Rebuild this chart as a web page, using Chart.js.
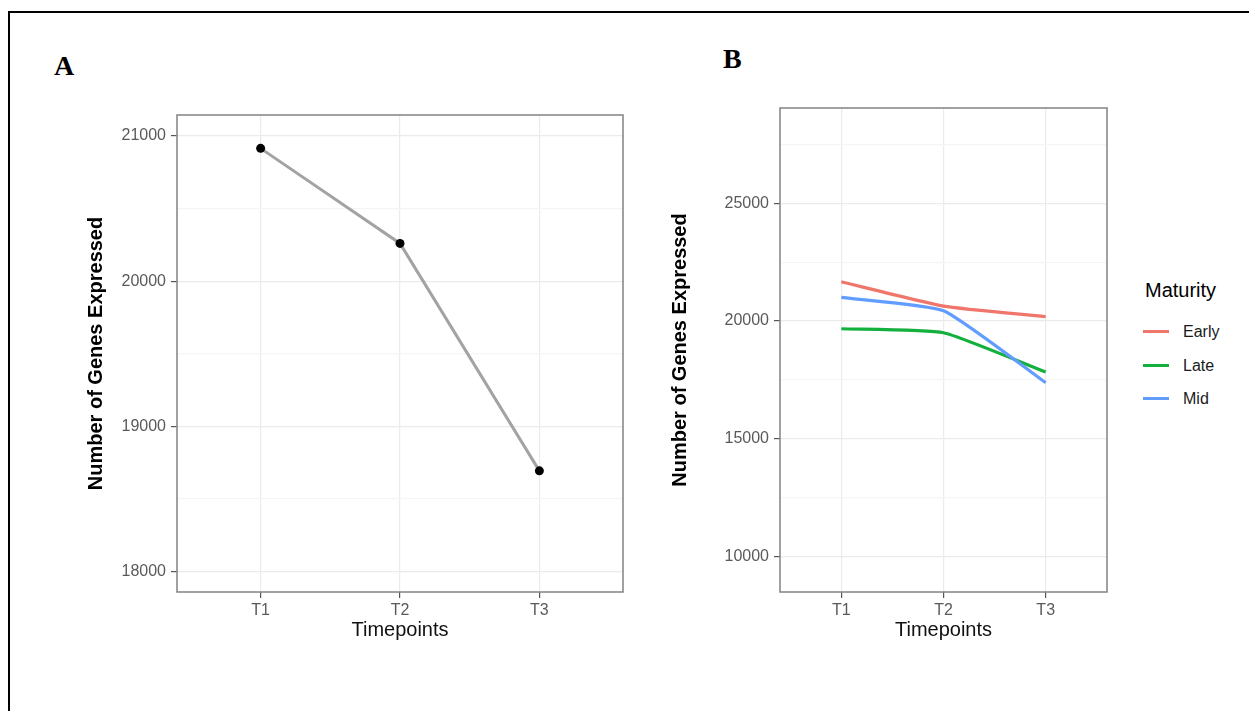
<!DOCTYPE html>
<html>
<head>
<meta charset="utf-8">
<script src="https://cdn.jsdelivr.net/npm/chart.js@4.4.1/dist/chart.umd.min.js"></script>
<style>
  html, body { margin: 0; padding: 0; background: #fff; }
  body { width: 1249px; height: 711px; position: relative; overflow: hidden; font-family: 'Liberation Sans', Arial, sans-serif; }
  .frame { position: absolute; left: 8px; top: 11px; width: 1400px; height: 900px; border-top: 2px solid #000; border-left: 2px solid #000; }
  .panel-tag { position: absolute; font-family: 'Liberation Serif', 'Times New Roman', serif; font-weight: bold; font-size: 28px; line-height: 28px; color: #000; }
  .box { position: absolute; }
  .legend-title { position: absolute; left: 1145px; top: 278px; font-size: 20px; line-height: 24px; color: #000; }
  .legend-row { position: absolute; left: 1143px; height: 20px; }
  .legend-row .swatch { position: absolute; left: 0; top: 8px; width: 26px; height: 3px; }
  .legend-row .txt { position: absolute; left: 40px; top: 0; font-size: 16px; line-height: 20px; color: #1a1a1a; white-space: nowrap; }
</style>
</head>
<body>
<div class="frame"></div>
<div class="panel-tag" style="left:54px; top:52px;">A</div>
<div class="panel-tag" style="left:723px; top:45px;">B</div>

<div class="box" style="left:30px; top:95px; width:610px; height:575px;">
  <canvas id="chartA" width="610" height="575"></canvas>
</div>
<div class="box" style="left:650px; top:90px; width:470px; height:580px;">
  <canvas id="chartB" width="470" height="580"></canvas>
</div>
<div id="legend"></div>

<script>
// timepoints and gene counts
const timepoints = ['T1', 'T2', 'T3'];
const genesTotal = [20915, 20260, 18692];

const maturityGroups = ['Early', 'Late', 'Mid'];
const earlyGenes = [21669, 20637, 20183];
const lateGenes = [19673, 19503, 17834];
const midGenes = [21006, 20437, 17380];
const groupColors = ['#F0766C', '#13B03E', '#619CFF'];

// y axis ticks (major labelled, minor just grid)
const majorTicksA = [18000, 19000, 20000, 21000];
const minorTicksA = [18500, 19500, 20500];
const majorTicksB = [10000, 15000, 20000, 25000];
const minorTicksB = [12500, 17500, 22500, 27500];

const sans = "'Liberation Sans', Arial, sans-serif";

const panelBorder = {
  id: 'panelBorder',
  afterDraw(chart) {
    const { ctx, chartArea: a } = chart;
    ctx.save();
    ctx.strokeStyle = '#8a8a8a';
    ctx.lineWidth = 1.6;
    ctx.strokeRect(a.left, a.top, a.right - a.left, a.bottom - a.top);
    ctx.restore();
  }
};

function toPoints(values) {
  return values.map((v, i) => ({ x: i, y: v }));
}

function makeScales(opts) {
  const minor = new Set(opts.minor);
  return {
    x: {
      type: 'linear',
      min: -0.6,
      max: 2.6,
      afterBuildTicks: s => { s.ticks = timepoints.map((t, i) => ({ value: i })); },
      afterFit: s => { s.height = opts.xHeight; },
      ticks: {
        callback: v => timepoints[v],
        font: { family: sans, size: 16 },
        color: '#5a5a5a',
        padding: 3,
        maxRotation: 0
      },
      grid: { color: '#ebebeb', lineWidth: 1.2, tickLength: 6, tickColor: '#555', tickWidth: 1.2 },
      border: { display: false },
      title: {
        display: true,
        text: 'Timepoints',
        font: { family: sans, size: 20 },
        color: '#111',
        padding: { top: 0, bottom: 28 }
      }
    },
    y: {
      min: opts.min,
      max: opts.max,
      afterBuildTicks: s => {
        s.ticks = opts.major.concat(opts.minor).sort((a, b) => a - b).map(v => ({ value: v }));
      },
      afterFit: s => { s.width = opts.yWidth; },
      ticks: {
        callback: v => minor.has(v) ? '' : String(v),
        font: { family: sans, size: 16 },
        color: '#5a5a5a',
        padding: 5
      },
      grid: {
        color: c => minor.has(c.tick.value) ? '#f5f5f5' : '#ebebeb',
        lineWidth: 1.2,
        tickLength: 6,
        tickColor: c => minor.has(c.tick.value) ? 'rgba(0,0,0,0)' : '#555',
        tickWidth: 1.2
      },
      border: { display: false },
      title: {
        display: true,
        text: 'Number of Genes Expressed',
        font: { family: sans, size: 20, weight: 'bold' },
        color: '#000',
        padding: { top: opts.titlePad, bottom: 0 }
      }
    }
  };
}

new Chart(document.getElementById('chartA'), {
  type: 'line',
  data: {
    datasets: [{
      data: toPoints(genesTotal),
      borderColor: '#a3a3a3',
      borderWidth: 3,
      pointRadius: 4.5,
      pointBackgroundColor: '#000',
      pointBorderWidth: 0,
      tension: 0
    }]
  },
  options: {
    responsive: false,
    animation: false,
    layout: { padding: { top: 20, right: 17, bottom: 0, left: 0 } },
    plugins: { legend: { display: false }, tooltip: { enabled: false } },
    scales: makeScales({ min: 17857, max: 21145, major: majorTicksA, minor: minorTicksA, yWidth: 147, xHeight: 78, titlePad: 54.5 })
  },
  plugins: [panelBorder]
});

const seriesB = [earlyGenes, lateGenes, midGenes];
new Chart(document.getElementById('chartB'), {
  type: 'line',
  data: {
    datasets: seriesB.map((vals, i) => ({
      label: maturityGroups[i],
      data: toPoints(vals),
      borderColor: groupColors[i],
      borderWidth: 3.2,
      pointRadius: 0,
      tension: 0.15,
      order: seriesB.length - 1 - i
    }))
  },
  options: {
    responsive: false,
    animation: false,
    layout: { padding: { top: 18, right: 13, bottom: 0, left: 0 } },
    plugins: { legend: { display: false }, tooltip: { enabled: false } },
    scales: makeScales({ min: 8490, max: 29050, major: majorTicksB, minor: minorTicksB, yWidth: 130, xHeight: 78, titlePad: 18 })
  },
  plugins: [panelBorder]
});

// legend for the maturity groups
const legend = document.getElementById('legend');
legend.innerHTML = '<div class="legend-title">Maturity</div>';
const rowTops = [322, 356, 389];
maturityGroups.forEach((name, i) => {
  const row = document.createElement('div');
  row.className = 'legend-row';
  row.style.top = rowTops[i] + 'px';
  row.innerHTML = '<div class="swatch" style="background:' + groupColors[i] + '"></div><div class="txt">' + name + '</div>';
  legend.appendChild(row);
});
</script>
</body>
</html>
